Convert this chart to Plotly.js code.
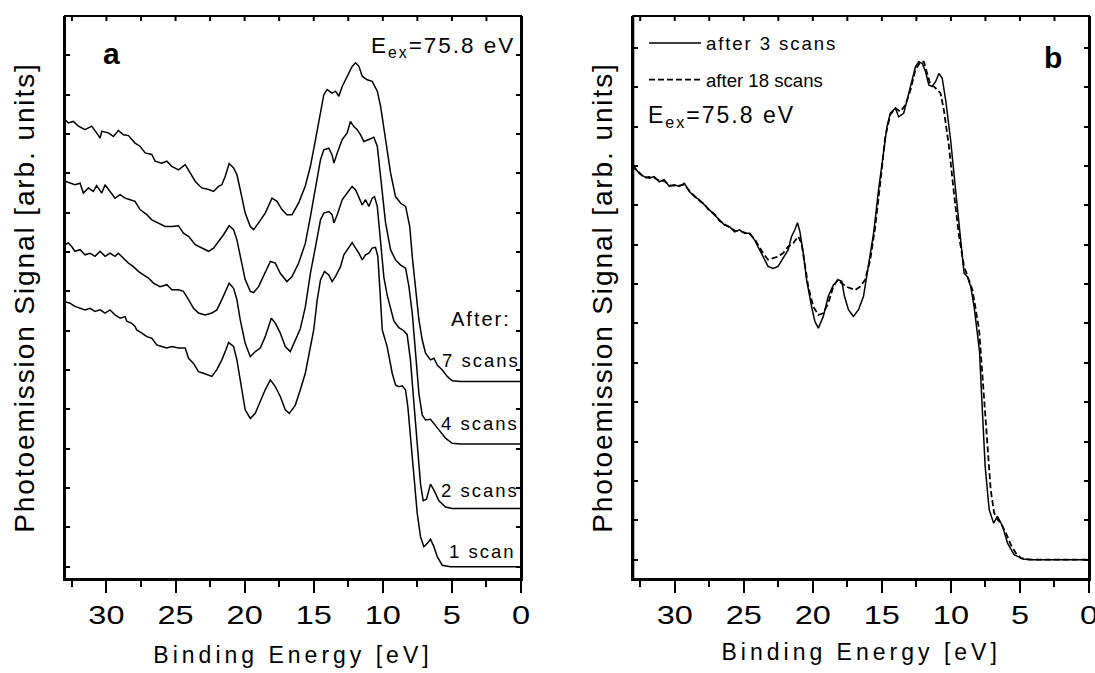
<!DOCTYPE html>
<html><head><meta charset="utf-8">
<script src="https://cdn.plot.ly/plotly-3.0.1.min.js"></script>
<style>
body{margin:0;background:#fff}
#chart{width:1095px;height:673px}
.annotation-text{letter-spacing:2px}
.legendtext{letter-spacing:1.9px}
.xtitle,.x2title{letter-spacing:4px}
.ytitle,.y2title{letter-spacing:1.9px}
</style></head><body><div id="chart"></div><script>
// ---------- Panel a : four spectra (binding energy eV, signal arb. units) ----------
const scans7_E = [33.0,32.76,32.40,32.03,31.55,31.07,30.71,30.46,30.34,29.86,29.50,29.14,28.77,28.41,27.93,27.57,27.20,26.72,26.48,26.00,25.63,25.27,24.79,24.30,23.94,23.58,23.34,23.10,22.61,22.25,21.89,21.65,21.41,21.12,20.80,20.56,20.32,19.96,19.59,19.35,18.99,18.51,18.02,17.66,17.30,16.94,16.57,16.09,15.61,15.24,14.87,14.51,14.27,14.03,13.67,13.42,13.18,12.94,12.58,12.22,11.97,11.73,11.49,11.13,10.77,10.40,10.16,9.80,9.44,9.08,8.71,8.35,8.05,7.87,7.63,7.39,7.15,6.91,6.55,6.30,6.06,5.70,5.34,4.98,4.37,0];
const scans7_V = [11.37,11.28,11.32,11.20,11.11,11.20,11.03,10.90,11.07,11.03,10.94,11.09,10.98,10.96,10.77,10.69,10.52,10.48,10.31,10.26,10.31,10.18,10.09,10.22,10.01,9.80,9.71,9.63,9.59,9.54,9.67,9.71,9.92,10.25,10.14,9.97,9.59,8.99,8.65,8.57,8.74,8.99,9.37,9.29,9.08,8.95,8.95,9.25,9.68,10.18,10.86,11.53,12.00,12.13,12.04,12.09,11.96,12.21,12.47,12.72,12.81,12.72,12.47,12.38,12.34,12.09,11.70,10.86,10.01,9.41,9.24,9.16,8.65,7.89,7.04,6.28,5.77,5.43,5.26,5.30,5.13,5.00,4.84,4.73,4.71,4.71];

const scans4_E = [33.0,32.64,32.28,31.91,31.67,31.31,30.95,30.71,30.34,30.10,29.74,29.38,29.01,28.65,28.29,27.93,27.57,27.08,26.72,26.24,25.75,25.27,24.79,24.43,24.06,23.58,23.10,22.61,22.25,21.89,21.53,21.12,20.80,20.56,20.32,19.96,19.59,19.35,18.99,18.51,18.14,17.78,17.42,16.94,16.57,16.09,15.61,15.24,14.87,14.51,14.27,13.91,13.67,13.54,13.30,12.94,12.58,12.34,12.10,11.85,11.61,11.37,11.01,10.65,10.40,10.16,9.80,9.44,9.08,8.71,8.35,8.11,7.87,7.63,7.39,7.15,6.91,6.55,6.30,5.94,5.46,4.98,4.37,0];
const scans4_V = [9.80,9.75,9.71,9.75,9.50,9.63,9.54,9.69,9.50,9.71,9.54,9.37,9.46,9.37,9.33,9.29,9.08,8.95,8.82,8.74,8.65,8.65,8.67,8.48,8.40,8.19,8.10,8.02,8.10,8.27,8.44,8.67,8.57,8.31,7.89,7.30,7.00,6.97,7.12,7.46,7.76,7.72,7.46,7.25,7.38,7.72,8.22,8.90,9.67,10.35,10.60,10.64,10.47,10.26,10.52,10.86,11.03,11.32,11.19,11.11,10.98,10.81,10.86,10.92,10.69,9.84,8.74,8.06,7.80,7.67,7.59,7.12,6.45,5.43,4.41,3.86,3.73,3.75,3.65,3.48,3.27,3.14,3.12,3.12];

const scans2_E = [33.0,32.76,32.52,32.28,31.91,31.55,31.19,30.83,30.46,30.10,29.74,29.38,29.14,28.77,28.41,28.05,27.69,27.32,26.96,26.60,26.12,25.63,25.27,24.79,24.43,24.06,23.70,23.34,22.86,22.37,22.01,21.65,21.36,21.12,20.80,20.56,20.32,19.96,19.59,19.23,18.87,18.51,18.07,17.78,17.42,17.06,16.70,16.33,15.97,15.61,15.24,14.87,14.51,14.27,13.91,13.67,13.54,13.30,12.94,12.58,12.22,11.97,11.73,11.49,11.25,11.01,10.77,10.60,10.40,10.16,9.92,9.68,9.44,9.20,8.84,8.48,8.24,8.00,7.75,7.51,7.27,7.08,6.84,6.55,6.30,5.94,5.46,4.98,0];
const scans2_V = [8.19,8.23,8.14,8.02,8.06,7.93,7.97,7.89,8.02,7.89,7.97,7.89,7.97,7.85,7.72,7.63,7.51,7.42,7.34,7.21,7.12,7.17,7.04,7.04,7.00,6.79,6.57,6.45,6.40,6.45,6.53,6.79,7.04,7.21,7.08,6.79,6.28,5.68,5.34,5.47,5.56,5.85,6.32,6.19,5.94,5.60,5.47,5.77,6.05,6.60,7.46,8.14,8.82,8.99,9.03,8.95,8.74,8.95,9.33,9.50,9.67,9.58,9.41,9.20,9.33,9.16,9.37,9.41,9.16,8.31,7.35,6.90,6.60,6.25,6.08,6.00,5.90,5.26,4.16,3.05,2.10,1.68,1.72,2.10,1.95,1.68,1.52,1.48,1.48];

const scans1_E = [33.0,32.64,32.28,31.91,31.55,31.19,30.83,30.46,30.10,29.74,29.38,29.01,28.65,28.53,28.17,27.93,27.81,27.44,27.08,26.72,26.36,26.00,25.63,25.27,24.79,24.30,24.06,23.70,23.34,22.98,22.73,22.37,22.01,21.65,21.36,21.16,20.80,20.56,20.32,19.96,19.59,19.23,18.87,18.51,18.14,17.78,17.42,17.06,16.77,16.33,15.97,15.61,15.00,14.75,14.51,14.22,13.91,13.67,13.42,13.06,12.82,12.46,12.22,11.97,11.73,11.49,11.25,11.01,10.77,10.53,10.36,10.21,10.04,9.69,9.32,9.08,8.84,8.60,8.36,8.19,8.00,7.75,7.51,7.27,7.03,6.79,6.55,6.30,6.06,5.70,5.10,0];
const scans1_V = [6.74,6.70,6.62,6.57,6.53,6.57,6.49,6.53,6.45,6.53,6.40,6.32,6.36,6.24,6.19,6.11,6.02,5.94,5.85,5.81,5.64,5.60,5.56,5.60,5.56,5.56,5.30,5.17,4.96,4.92,4.88,4.84,5.01,5.26,5.51,5.70,5.60,5.26,4.75,3.99,3.77,3.90,4.20,4.50,4.75,4.58,4.33,3.99,3.90,4.11,4.50,4.92,6.02,6.78,7.29,7.51,7.42,7.25,7.38,7.63,7.93,8.10,8.24,8.10,7.97,7.80,7.93,7.97,8.10,8.12,7.89,7.04,6.02,5.60,4.92,4.62,4.58,4.60,4.50,4.07,3.31,2.29,1.36,0.76,0.51,0.59,0.70,0.51,0.26,0.04,0.00,0.00];

// ---------- Panel b : two spectra ----------
const after3_E = [33.0,32.94,32.58,32.21,31.85,31.49,31.12,30.76,30.39,30.03,29.67,29.30,28.94,28.57,28.21,27.85,27.48,27.12,26.75,26.39,26.03,25.66,25.30,24.94,24.57,24.21,23.97,23.61,23.24,22.88,22.52,22.15,21.79,21.54,21.30,21.11,20.94,20.69,20.45,20.09,19.85,19.60,19.24,18.88,18.51,18.15,17.90,17.71,17.42,17.06,16.69,16.33,15.96,15.60,15.24,14.87,14.63,14.39,14.02,13.78,13.42,13.17,12.81,12.57,12.33,12.08,11.84,11.60,11.36,11.11,10.87,10.63,10.38,10.02,9.66,9.29,9.05,8.81,8.57,8.32,8.10,7.93,7.76,7.52,7.23,6.91,6.63,6.26,5.90,5.42,4.80,4.00,0];
const after3_V = [10.00,9.98,9.81,9.73,9.69,9.73,9.60,9.65,9.48,9.52,9.48,9.56,9.35,9.22,9.14,9.01,8.88,8.76,8.63,8.50,8.46,8.33,8.38,8.29,8.29,8.12,7.95,7.70,7.45,7.40,7.45,7.66,7.87,8.21,8.38,8.56,8.34,7.79,7.11,6.43,6.05,5.88,6.18,6.69,6.98,7.11,7.07,6.69,6.35,6.18,6.35,6.69,7.45,8.29,9.39,10.41,11.00,11.34,11.47,11.25,11.34,11.68,12.18,12.52,12.65,12.61,12.40,12.06,12.02,12.14,12.35,12.23,11.68,10.66,9.39,8.12,7.28,7.19,6.94,6.43,5.80,5.30,4.06,2.37,1.27,0.93,1.10,0.85,0.42,0.13,0.02,0.00,0.00];

const after18_E = [33.0,32.94,32.58,32.21,31.85,31.49,31.12,30.76,30.39,30.03,29.67,29.30,28.94,28.57,28.21,27.85,27.48,27.12,26.75,26.39,26.03,25.66,25.30,24.94,24.57,24.21,23.97,23.61,23.24,22.88,22.52,22.15,21.79,21.42,21.06,20.82,20.57,20.33,19.97,19.60,19.24,18.88,18.51,18.20,17.90,17.61,17.30,16.93,16.57,16.21,15.84,15.48,15.12,14.75,14.39,14.02,13.66,13.30,12.93,12.57,12.20,11.96,11.72,11.48,11.23,10.99,10.75,10.51,10.14,9.78,9.41,9.05,8.69,8.44,8.20,7.96,7.85,7.60,7.36,7.12,6.87,6.63,6.39,6.02,5.66,5.30,4.93,4.33,0];
const after18_V = [10.03,9.95,9.84,9.70,9.72,9.70,9.63,9.62,9.51,9.50,9.50,9.53,9.37,9.24,9.12,9.03,8.86,8.78,8.61,8.52,8.44,8.36,8.35,8.31,8.27,8.14,8.00,7.79,7.62,7.66,7.70,7.79,7.95,8.04,8.21,8.04,7.45,6.94,6.43,6.22,6.26,6.52,6.94,7.11,7.02,6.94,6.90,6.85,6.94,7.11,7.62,8.46,9.56,10.75,11.30,11.47,11.38,11.55,11.93,12.44,12.65,12.65,12.35,12.06,12.02,11.93,11.85,11.42,10.49,9.31,8.21,7.45,7.11,6.85,6.35,5.84,5.33,4.06,2.79,1.78,1.19,1.02,0.93,0.68,0.38,0.17,0.04,0.00,0.00];

const xTickVals = [30,25,20,15,10,5,0];
const xTickText = ['30','25','20','15','10','5','0'];
const scanLabels = ['After:','7 scans','4 scans','2 scans','1 scan'];
const legendNames = ['after 3 scans','after 18 scans'];
const exText = 'E<sub>ex</sub>=75.8 eV';

// ---------- geometry helpers (pixel -> paper) ----------
const M = {l:65, r:6, t:16, b:94};
const W = 1095, H = 673;
const PW = W - M.l - M.r, PH = H - M.t - M.b;
const px = x => (x - M.l) / PW;
const py = y => (H - M.b - y) / PH;

const FONT = 'Liberation Sans, Arial, Helvetica, sans-serif';
const lineStyle = {color:'#000', width:1.5};
const domA = [0, px(521)], domB = [px(633.3), 1];

const traces = [
  {x:scans7_E, y:scans7_V, xaxis:'x', yaxis:'y', mode:'lines', line:lineStyle, showlegend:false, name:'7 scans'},
  {x:scans4_E, y:scans4_V, xaxis:'x', yaxis:'y', mode:'lines', line:lineStyle, showlegend:false, name:'4 scans'},
  {x:scans2_E, y:scans2_V, xaxis:'x', yaxis:'y', mode:'lines', line:lineStyle, showlegend:false, name:'2 scans'},
  {x:scans1_E, y:scans1_V, xaxis:'x', yaxis:'y', mode:'lines', line:lineStyle, showlegend:false, name:'1 scan'},
  {x:after3_E, y:after3_V, xaxis:'x2', yaxis:'y2', mode:'lines', line:{color:'#000', width:1.5}, name:legendNames[0], legend:'legend'},
  {x:after18_E, y:after18_V, xaxis:'x2', yaxis:'y2', mode:'lines', line:{color:'#000', width:1.8, dash:'6px,3px'}, name:legendNames[1], legend:'legend2'}
];

function bottomX(domain, anchor, standoff){
  return {domain:domain, range:[33,0], anchor:anchor,
    tickmode:'array', tickvals:xTickVals, ticktext:xTickText,
    ticks:'outside', ticklen:12, tickwidth:2, tickcolor:'#000',
    minor:{dtick:2.5, tick0:0, ticks:'outside', ticklen:6, tickwidth:2, tickcolor:'#000'},
    showline:true, linewidth:2, linecolor:'#000', mirror:false,
    showgrid:false, zeroline:false,
    ticklabelstandoff:1, ticklabeloverflow:'allow',
    tickfont:{family:FONT, size:25, color:'#000'},
    title:{text:'Binding Energy [eV]', font:{family:FONT, size:23, color:'#000'}, standoff:standoff}};
}
function leftY(range, anchor, standoff){
  return {domain:[0,1], range:range, anchor:anchor, tick0:0, dtick:1,
    ticks:'inside', ticklen:5, tickwidth:2, tickcolor:'#000', showticklabels:false,
    showline:true, linewidth:2, linecolor:'#000', mirror:'ticks',
    showgrid:false, zeroline:false,
    title:{text:'Photoemission Signal [arb. units]', font:{family:FONT, size:28, color:'#000'}, standoff:standoff}};
}
// full frame of each panel (box outline, not data)
const frame = (xr, yr) => ({type:'rect', xref:xr+' domain', yref:yr+' domain', x0:0, x1:1, y0:0, y1:1,
  line:{color:'#000', width:2}, fillcolor:'rgba(0,0,0,0)', layer:'above'});
// short inward ticks hanging from the top edge, every 2.5 eV on the x scale
const topTickVals = [32.5,30,27.5,25,22.5,20,17.5,15,12.5,10,7.5,5,2.5];
const topTicks = (xr, yr) => topTickVals.map(v => ({type:'line', xref:xr, yref:yr+' domain',
  x0:v, x1:v, y0:1, y1:1 - 5/PH, line:{color:'#000', width:2}, layer:'above'}));

const ann = (text, x, y, size, xa, ya, bold) => ({
  text: bold ? '<b>'+text+'</b>' : text, xref:'paper', yref:'paper', x:px(x), y:py(y),
  xanchor:xa, yanchor:ya, showarrow:false, borderpad:0,
  font:{family:FONT, size:size, color:'#000'}});

const legendBase = {xanchor:'left', yanchor:'middle', bgcolor:'rgba(0,0,0,0)', borderwidth:0, itemwidth:52,
  font:{family:FONT, size:18.6, color:'#000'}};

const layout = {
  width:W, height:H, margin:M, paper_bgcolor:'#fff', plot_bgcolor:'#fff',
  font:{family:FONT, color:'#000'},
  xaxis: bottomX(domA, 'y', 19),
  xaxis2: bottomX(domB, 'y2', 16),
  yaxis: leftY([-0.31, 14.0], 'x', 20),
  yaxis2: leftY([-0.49, 13.81], 'x2', 11),
  shapes:[frame('x','y'), frame('x2','y2')].concat(topTicks('x','y'), topTicks('x2','y2')),
  showlegend:true,
  legend: Object.assign({x:px(644), y:py(43.3)}, legendBase),
  legend2: Object.assign({x:px(644), y:py(80)}, legendBase),
  annotations:[
    ann('a', 112.5, 53, 30, 'center', 'middle', true),
    ann(exText, 516, 31.5, 22.5, 'right', 'top', false),
    ann(scanLabels[0], 481, 319, 20, 'center', 'middle', false),
    ann(scanLabels[1], 480.5, 360, 18.5, 'center', 'middle', false),
    ann(scanLabels[2], 480, 423, 18.5, 'center', 'middle', false),
    ann(scanLabels[3], 479.5, 490, 18.5, 'center', 'middle', false),
    ann(scanLabels[4], 482, 551, 18.5, 'center', 'middle', false),
    ann('b', 1054, 57.9, 30, 'center', 'middle', true),
    ann(exText, 647, 101.5, 23, 'left', 'top', false)
  ]
};

const gd = document.getElementById('chart');
function touchUp(){
  // widen the tick-label glyphs horizontally (the original lettering is stretched)
  document.querySelectorAll('.xtick text, .x2tick text').forEach(function(t){
    if (t.getAttribute('data-stretched') === (t.getAttribute('transform') || '')) return;
    const orig = t.getAttribute('transform') || '';
    const b = t.getBBox(); const cx = b.x + b.width/2;
    const nt = orig + ' translate(' + cx + ',0) scale(1.3,1) translate(' + (-cx) + ',0)';
    t.setAttribute('transform', nt);
    t.setAttribute('data-stretched', nt);
  });
}
const pr = Plotly.newPlot(gd, traces, layout, {staticPlot:true});
touchUp();
pr.then(function(){
  touchUp();
  gd.on('plotly_afterplot', touchUp);
});
</script></body></html>
